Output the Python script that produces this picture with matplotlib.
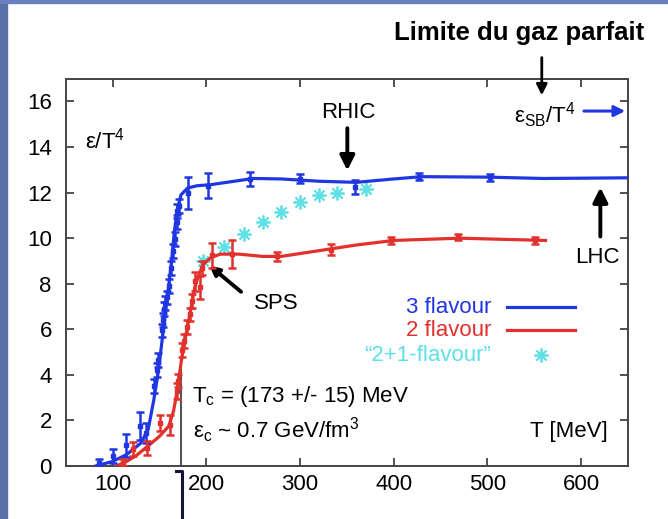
import matplotlib
matplotlib.use("Agg")
import matplotlib.pyplot as plt
from matplotlib.patches import Rectangle
from matplotlib.lines import Line2D

plt.rcParams['font.family'] = ['Liberation Sans', 'DejaVu Sans']
plt.rcParams['mathtext.default'] = 'regular'

# ---- data ----
# 3 flavour lattice points
T3 = [86, 101, 114, 129, 136, 144, 147, 149, 153, 154, 155, 156, 158, 160.5, 162.5,
      164.5, 166.5, 168.5, 169, 171, 181, 202, 247, 300, 359, 427, 503]
v3 = [0.15, 0.45, 0.9, 1.75, 1.45, 3.5, 4.2, 4.65, 5.95, 6.4, 6.9, 7.15, 7.4, 7.9, 8.7,
      9.45, 9.95, 10.7, 11.2, 11.4, 12.0, 12.3, 12.6, 12.6, 12.25, 12.7, 12.68]
e3 = [0.15, 0.3, 0.5, 0.6, 0.45, 0.3, 0.3, 0.3, 0.3, 0.3, 0.3, 0.3, 0.3, 0.3, 0.3,
      0.3, 0.3, 0.3, 0.3, 0.3, 0.7, 0.55, 0.3, 0.2, 0.3, 0.15, 0.15]
# 3 flavour curve
T3c = [82, 100, 115, 130, 138, 144, 149, 154, 159, 163, 166, 169, 173, 180, 190, 205,
       230, 250, 280, 320, 360, 400, 430, 500, 560, 650]
v3c = [0.0, 0.2, 0.5, 1.0, 1.6, 2.9, 4.2, 5.9, 7.6, 9.0, 10.3, 11.25, 11.9, 12.2, 12.3,
       12.35, 12.5, 12.62, 12.6, 12.5, 12.45, 12.6, 12.7, 12.68, 12.62, 12.65]

# 2 flavour lattice points
T2 = [111, 122, 136.5, 151, 161, 168.5, 170, 174, 176.5, 179.5, 183, 185, 188, 193.5,
      195.5, 206, 227, 276, 333, 397, 469, 551]
v2 = [0.15, 0.75, 0.8, 1.9, 1.8, 3.3, 3.75, 5.1, 5.5, 6.1, 6.65, 7.25, 8.1, 7.85,
      8.7, 9.25, 9.3, 9.2, 9.5, 9.9, 10.05, 9.9]
e2 = [0.15, 0.3, 0.3, 0.35, 0.45, 0.35, 0.3, 0.3, 0.3, 0.3, 0.3, 0.3, 0.4, 0.5,
      0.3, 0.55, 0.6, 0.2, 0.25, 0.15, 0.15, 0.15]
# 2 flavour curve
T2c = [104, 115, 125, 137, 150, 160, 165, 169, 174, 179, 184, 188, 193, 198, 205, 215,
       235, 260, 280, 320, 360, 400, 470, 562]
v2c = [0.0, 0.2, 0.45, 0.85, 1.3, 1.75, 2.4, 3.3, 4.8, 5.9, 7.0, 7.9, 8.5, 8.9, 9.15,
       9.3, 9.3, 9.2, 9.2, 9.45, 9.7, 9.9, 10.0, 9.9]

# "2+1-flavour"
T21 = [197, 219, 240, 260, 280, 300, 320, 340, 370]
v21 = [9.0, 9.6, 10.2, 10.7, 11.17, 11.57, 11.88, 11.98, 12.18]

xticks = [100, 200, 300, 400, 500, 600]
yticks = [0, 2, 4, 6, 8, 10, 12, 14, 16]

BLUE = '#1f36e0'
RED = '#e2302c'
CYAN = '#5fe0e6'
W, H = 668, 519

fig = plt.figure(figsize=(W / 100, H / 100), dpi=100)
fig.patch.set_facecolor('white')
fig.add_artist(Rectangle((0, 0), 7 / W, 1, transform=fig.transFigure,
                         color='#5a6ea8', zorder=0))
fig.add_artist(Rectangle((0, 1 - 3 / H), 1, 3 / H, transform=fig.transFigure,
                         color='#6a7fbe', zorder=0))
fig.add_artist(Line2D([175.7 / W, 182.3 / W, 182.3 / W], [1 - 471 / H, 1 - 471 / H, 0],
                      transform=fig.transFigure, color='#14143c', lw=2.2))

L, R, T, B = 65.7, 628, 78.7, 466
ax = fig.add_axes([L / W, 1 - B / H, (R - L) / W, (B - T) / H])
ax.set_xlim(50, 650)
ax.set_ylim(0, 17)
ax.set_xticks(xticks)
ax.set_yticks(yticks)
ax.tick_params(direction='in', top=True, right=True, length=6, width=1.2,
               labelsize=16, color='#333333')
ax.tick_params(axis='x', pad=6)
ax.tick_params(axis='y', pad=10)
for s in ax.spines.values():
    s.set_linewidth(1.4)
    s.set_color('#444444')

# Tc line
ax.plot([173, 173], [0, 4.3], color='#555555', lw=1.5, zorder=1)

# curves
ax.plot(T3c, v3c, color=BLUE, lw=2.3, zorder=3)
ax.plot(T2c, v2c, color=RED, lw=2.3, zorder=3)
ax.errorbar(T3, v3, yerr=e3, fmt='s', ms=3, color=BLUE, ecolor=BLUE, elinewidth=1.8,
            capsize=3, capthick=1.8, zorder=4)
ax.errorbar(T2, v2, yerr=e2, fmt='s', ms=3, color=RED, ecolor=RED, elinewidth=1.8,
            capsize=3, capthick=1.8, zorder=4)
ax.plot(T21, v21, linestyle='none', marker=(8, 2, 0), ms=10, mew=1.3,
        color=CYAN, zorder=2)

FS = 16
ax.text(92, 14.27, 'ε/T$^4$', fontsize=FS, ha='center', va='center')
ax.text(352, 15.5, 'RHIC', fontsize=FS, ha='center', va='center')
ax.annotate('', xy=(350.5, 12.85), xytext=(350.5, 14.95),
            arrowprops=dict(arrowstyle='-|>', lw=2.8, color='black', mutation_scale=22))
ax.text(594, 15.4, 'ε$_{SB}$/T$^4$', fontsize=FS, ha='right', va='center')
ax.annotate('', xy=(650, 15.58), xytext=(600, 15.58), annotation_clip=False,
            arrowprops=dict(arrowstyle='-|>', lw=2.2, color=BLUE, mutation_scale=16))
ax.annotate('', xy=(558, 16.15), xytext=(558, 18.05), annotation_clip=False,
            arrowprops=dict(arrowstyle='-|>', lw=2.0, color='black', mutation_scale=16))
fig.text(519.5 / W, 1 - 33 / H, 'Limite du gaz parfait', fontsize=18.5,
         fontweight='bold', ha='center', va='center')
ax.text(617, 9.15, 'LHC', fontsize=FS, ha='center', va='center')
ax.annotate('', xy=(620.5, 12.35), xytext=(620.5, 9.95),
            arrowprops=dict(arrowstyle='-|>', lw=2.8, color='black', mutation_scale=22))
ax.text(275, 7.13, 'SPS', fontsize=FS, ha='center', va='center')
ax.annotate('', xy=(201, 8.88), xytext=(239.4, 7.57),
            arrowprops=dict(arrowstyle='-|>', lw=2.8, color='black', mutation_scale=14))

# legend
ax.text(504, 6.97, '3 flavour', fontsize=FS, color=BLUE, ha='right', va='center')
ax.text(504, 5.95, '2 flavour', fontsize=FS, color=RED, ha='right', va='center')
ax.text(504, 4.86, '“2+1-flavour”', fontsize=FS, color=CYAN, ha='right', va='center')
ax.plot([521, 593], [6.97, 6.97], color=BLUE, lw=2.3)
ax.plot([521, 593], [5.95, 5.95], color=RED, lw=2.3)
ax.plot([557], [4.86], linestyle='none', marker=(8, 2, 0), ms=10, mew=1.3, color=CYAN)

ax.text(184.6, 3.03, 'T$_c$ = (173 +/- 15) MeV', fontsize=FS, ha='left', va='center')
ax.text(186, 1.58, 'ε$_c$ ~ 0.7 GeV/fm$^3$', fontsize=FS, ha='left', va='center')
ax.text(628, 1.5, 'T [MeV]', fontsize=FS, ha='right', va='center')

fig.savefig('out.png', dpi=100)
